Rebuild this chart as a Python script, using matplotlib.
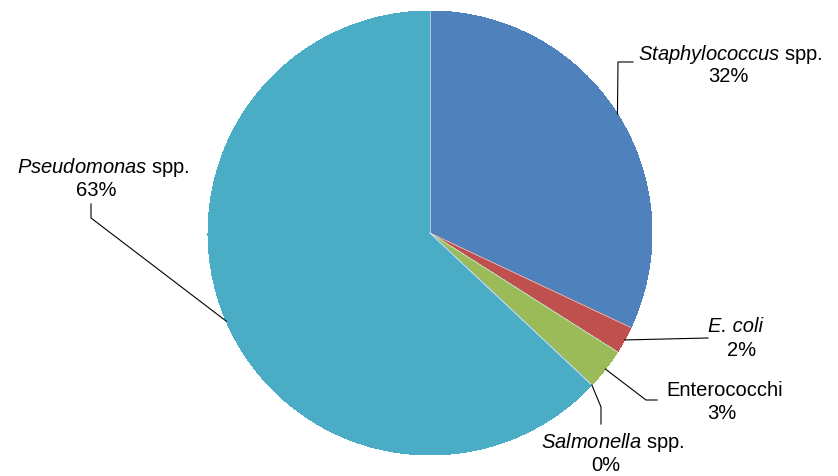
import numpy as np
import matplotlib
matplotlib.use("Agg")
import matplotlib.pyplot as plt

plt.rcParams['font.family'] = ['Liberation Sans', 'DejaVu Sans']
plt.rcParams['mathtext.fontset'] = 'custom'
plt.rcParams['mathtext.rm'] = 'Liberation Sans'
plt.rcParams['mathtext.it'] = 'Liberation Sans:italic'

# isolates by genus, percent of total
species = [r"$\mathit{Staphylococcus}$ spp.", "E. coli", "Enterococchi",
           r"$\mathit{Salmonella}$ spp.", r"$\mathit{Pseudomonas}$ spp."]
name_style = ["normal", "italic", "normal", "normal", "normal"]
shares = [32, 2, 3, 0, 63]
colors = ["#4F81BD", "#C0504D", "#9BBB59", "#8064A2", "#4BACC6"]

W, H = 838, 477
fig = plt.figure(figsize=(W / 100, H / 100), dpi=100)
ax = fig.add_axes([0, 0, 1, 1])

cx, cy, R = 430, 234, 222

# y axis is flipped, so counterclock=True sweeps clockwise on screen
wedges, _ = ax.pie(shares, colors=colors, startangle=-90, counterclock=True,
                   center=(cx, cy), radius=R, frame=True,
                   wedgeprops=dict(linewidth=0))
for w in wedges:
    w.set_antialiased(False)
ax.set_xlim(0, W)
ax.set_ylim(H, 0)
ax.axis("off")

# thin light seam along the slice borders
for w in wedges:
    a = np.deg2rad(w.theta1)
    ax.plot([cx, cx + R * np.cos(a)], [cy, cy + R * np.sin(a)],
            color="#d6e2ee", lw=0.5)

# leader path after the wedge edge point, and text placement per label
leaders = [
    [(618, 63), (633, 63)],
    [(708, 339)],
    [(646, 401), (657, 401)],
    [(601, 408), (601, 425)],
    [(91, 219), (91, 205)],
]
text_pos = [
    ((730, 54), (728, 77)),
    ((736, 327), (742, 351)),
    ((725, 391), (722, 414)),
    ((613, 443), (606, 466)),
    ((103, 168), (96, 191)),
]

for w, name, st, val, path, (p1, p2) in zip(wedges, species, name_style, shares,
                                            leaders, text_pos):
    mid = np.deg2rad((w.theta1 + w.theta2) / 2)
    ex = cx + R * np.cos(mid)
    ey = cy + R * np.sin(mid)
    xs = [ex] + [p[0] for p in path]
    ys = [ey] + [p[1] for p in path]
    ax.plot(xs, ys, color="#000000", lw=0.8)
    ax.text(p1[0], p1[1], name, ha="center", va="center", fontsize=14.5,
            fontstyle=st)
    ax.text(p2[0], p2[1], f"{val}%", ha="center", va="center", fontsize=14.5)

fig.savefig("out.png", dpi=100)
